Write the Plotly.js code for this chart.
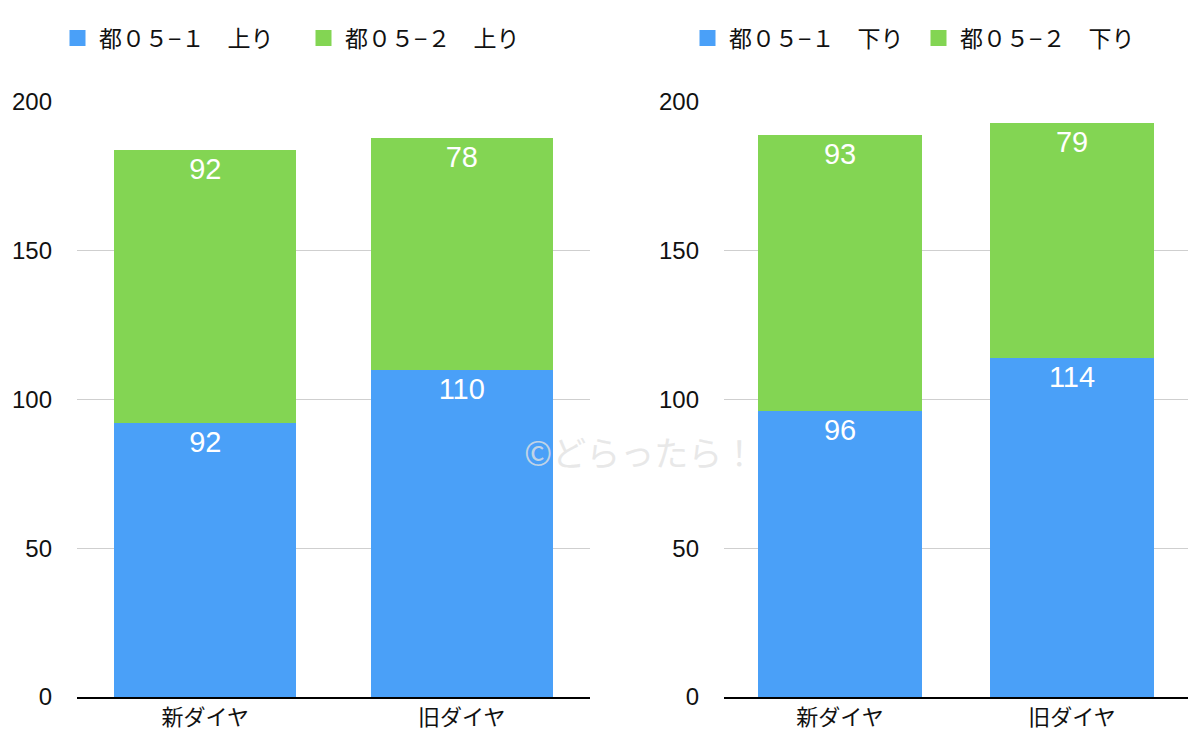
<!DOCTYPE html>
<html>
<head>
<meta charset="utf-8">
<script src="https://cdn.plot.ly/plotly-3.0.1.min.js"></script>
<style>
  html, body { margin: 0; padding: 0; background: #fff; }
  #chart { width: 1200px; height: 739px; }
</style>
</head>
<body>
<div id="chart"></div>
<script>
// 都05 上り・下り 本数比較
const CATEGORIES = ['新ダイヤ', '旧ダイヤ'];

const UP_1 = [92, 110];
const UP_2 = [92, 78];
const DOWN_1 = [96, 114];
const DOWN_2 = [93, 79];

const NAMES_UP = ['都０５−１　上り', '都０５−２　上り'];
const NAMES_DOWN = ['都０５−１　下り', '都０５−２　下り'];

const Y_TICKS = [0, 50, 100, 150, 200];

const BLUE = '#4aa0f8';
const GREEN = '#83d553';
const FONT = 'Liberation Sans, "Noto Sans CJK JP", sans-serif';

const W = 1200, H = 739;
const px = v => v / W;
const py = v => (H - v) / H;

function barTrace(ys, color, xa, ya) {
  return {
    type: 'bar',
    x: CATEGORIES, y: ys,
    xaxis: xa, yaxis: ya,
    showlegend: false,
    marker: { color: color, line: { width: 0 } },
    text: ys.map(String),
    textposition: 'inside',
    insidetextanchor: 'end',
    constraintext: 'none',
    textfont: { color: '#fff', size: 29, family: FONT },
    hoverinfo: 'skip',
  };
}

// 凡例用（大きい四角マーカー）
function legendTrace(name, color, xa, ya, legend) {
  return {
    type: 'scatter', mode: 'markers',
    x: [null], y: [null],
    xaxis: xa, yaxis: ya,
    name: name, legend: legend,
    marker: { symbol: 'square', size: 17, color: color },
    hoverinfo: 'skip',
  };
}

const traces = [
  barTrace(UP_1, BLUE, 'x', 'y'),
  barTrace(UP_2, GREEN, 'x', 'y'),
  barTrace(DOWN_1, BLUE, 'x2', 'y2'),
  barTrace(DOWN_2, GREEN, 'x2', 'y2'),
  legendTrace(NAMES_UP[0], BLUE, 'x', 'y', 'legend'),
  legendTrace(NAMES_UP[1], GREEN, 'x', 'y', 'legend'),
  legendTrace(NAMES_DOWN[0], BLUE, 'x2', 'y2', 'legend2'),
  legendTrace(NAMES_DOWN[1], GREEN, 'x2', 'y2', 'legend2'),
];

const xBase = {
  type: 'category',
  showline: true, linecolor: '#000', linewidth: 2,
  showgrid: false, ticks: '',
  tickfont: { size: 22, color: '#111', family: FONT },
  fixedrange: true,
};
const yBase = {
  range: [0, 200],
  tickvals: Y_TICKS,
  showline: false, zeroline: false,
  gridcolor: '#cfcfcf', gridwidth: 1,
  ticks: '',
  ticklabelstandoff: 24,
  tickfont: { size: 24, color: '#111', family: FONT },
  domain: [py(697), py(102)],
  fixedrange: true,
};
const legendBase = {
  orientation: 'h',
  yanchor: 'middle',
  y: py(38),
  font: { size: 23, color: '#111', family: FONT },
  bgcolor: 'rgba(0,0,0,0)',
  itemclick: false, itemdoubleclick: false,
  traceorder: 'normal',
  itemwidth: 33,
};

const layout = {
  width: W, height: H,
  margin: { l: 0, r: 0, t: 0, b: 0 },
  paper_bgcolor: '#fff', plot_bgcolor: '#fff',
  barmode: 'stack',
  bargap: 0.29,
  font: { family: FONT },
  showlegend: true,
  xaxis: { ...xBase, domain: [px(77), px(590)], anchor: 'y' },
  yaxis: { ...yBase, anchor: 'x' },
  xaxis2: { ...xBase, domain: [px(724), px(1188)], anchor: 'y2' },
  yaxis2: { ...yBase, anchor: 'x2' },
  legend: { ...legendBase, x: px(56), xanchor: 'left', entrywidth: 198 },
  legend2: { ...legendBase, x: px(686), xanchor: 'left', entrywidth: 183 },
  annotations: [{
    xref: 'paper', yref: 'paper',
    x: px(640), y: py(452),
    text: '©どらったら！',
    showarrow: false,
    font: { size: 34, color: 'rgba(226,226,226,0.8)', family: '"Noto Sans CJK JP", sans-serif' },
  }],
};

Plotly.newPlot('chart', traces, layout, { displayModeBar: false, staticPlot: true });
</script>
</body>
</html>
